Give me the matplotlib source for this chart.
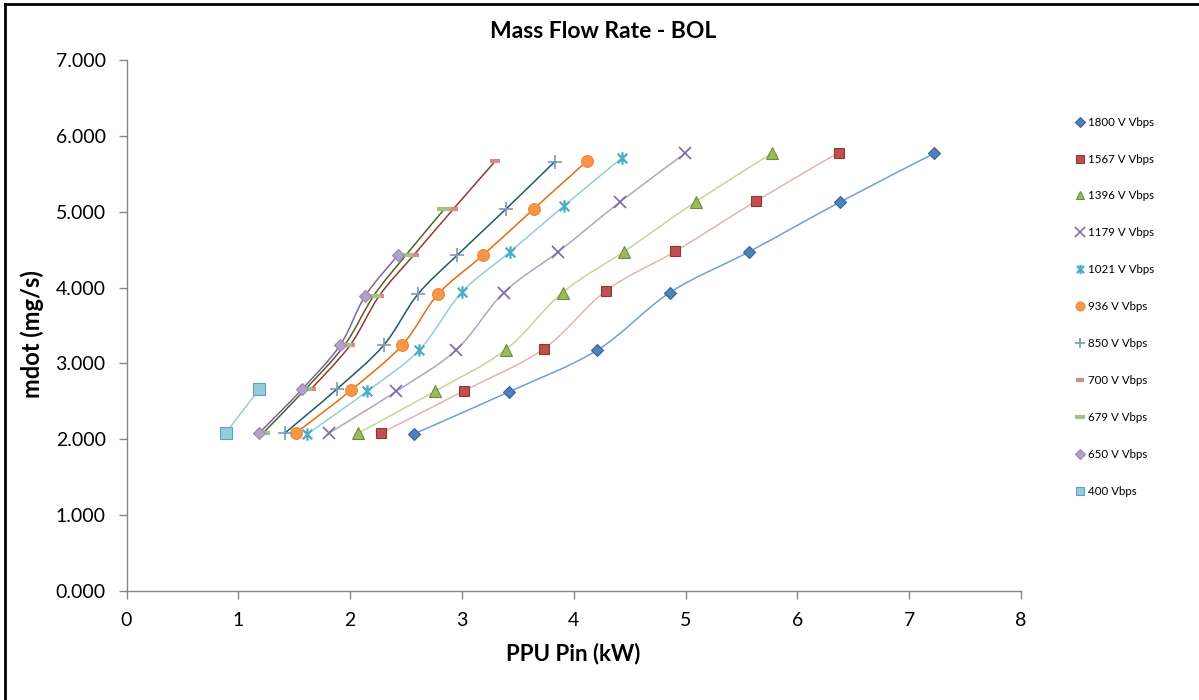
import matplotlib
matplotlib.use("Agg")
import matplotlib.pyplot as plt
import numpy as np
from matplotlib.path import Path
from matplotlib.patches import PathPatch
from matplotlib.lines import Line2D

plt.rcParams['font.family'] = ['Lato', 'DejaVu Sans']

# ---- data (PPU Pin kW, mdot mg/s) ----
x_1800 = [2.57, 3.42, 4.21, 4.86, 5.565, 6.385, 7.225]
y_1800 = [2.07, 2.625, 3.175, 3.935, 4.47, 5.13, 5.77]
x_1567 = [2.275, 3.02, 3.73, 4.29, 4.91, 5.63, 6.37]
y_1567 = [2.08, 2.64, 3.19, 3.96, 4.48, 5.14, 5.78]
x_1396 = [2.07, 2.755, 3.39, 3.90, 4.445, 5.09, 5.77]
y_1396 = [2.08, 2.63, 3.18, 3.935, 4.47, 5.13, 5.77]
x_1179 = [1.81, 2.41, 2.95, 3.375, 3.86, 4.415, 4.995]
y_1179 = [2.08, 2.63, 3.18, 3.935, 4.47, 5.13, 5.77]
x_1021 = [1.617, 2.15, 2.62, 3.0, 3.43, 3.915, 4.43]
y_1021 = [2.07, 2.63, 3.18, 3.94, 4.47, 5.08, 5.71]
x_936 = [1.513, 2.01, 2.465, 2.785, 3.19, 3.645, 4.12]
y_936 = [2.08, 2.65, 3.24, 3.91, 4.43, 5.04, 5.67]
x_850 = [1.415, 1.88, 2.30, 2.605, 2.96, 3.39, 3.83]
y_850 = [2.08, 2.66, 3.24, 3.91, 4.43, 5.03, 5.66]
x_700 = [1.65, 2.0, 2.26, 2.57, 2.92, 3.30]
y_700 = [2.66, 3.24, 3.89, 4.43, 5.03, 5.67]
x_679 = [1.22, 1.60, 1.95, 2.21, 2.50, 2.84]
y_679 = [2.08, 2.66, 3.24, 3.89, 4.43, 5.03]
x_650 = [1.185, 1.57, 1.91, 2.135, 2.43]
y_650 = [2.08, 2.66, 3.24, 3.89, 4.43]
x_400 = [0.886, 1.186]
y_400 = [2.08, 2.66]

labels = ['1800 V Vbps', '1567 V Vbps', '1396 V Vbps', '1179 V Vbps', '1021 V Vbps',
          '936 V Vbps', '850 V Vbps', '700 V Vbps', '679 V Vbps', '650 V Vbps', '400 Vbps']

# asterisk marker (x plus vertical bar), like Excel's
star = Path([(-1, -1), (1, 1), (-1, 1), (1, -1), (0, -1.3), (0, 1.3)],
            [Path.MOVETO, Path.LINETO, Path.MOVETO, Path.LINETO, Path.MOVETO, Path.LINETO])

# (x, y, line colour, marker, face, edge, size, mew)
series = [
    (x_1800, y_1800, '#6E9FE0', 'D', '#4F81BD', '#3A6496', 6.5, 0.8),
    (x_1567, y_1567, '#E6B3B2', 's', '#C0504D', '#8C3836', 7.5, 0.8),
    (x_1396, y_1396, '#C3D69B', '^', '#9BBB59', '#71893F', 8.5, 0.8),
    (x_1179, y_1179, '#B3A2C7', 'x', '#7F6A9C', '#7F6A9C', 9, 1.2),
    (x_1021, y_1021, '#93CDDD', star, '#4BACC6', '#4BACC6', 9, 1.6),
    (x_936, y_936, '#E46C0A', 'o', '#F79646', '#E9883A', 8.5, 0.8),
    (x_850, y_850, '#215967', '+', '#7F97BA', '#7F97BA', 10, 1.2),
    (x_700, y_700, '#953735', '_', '#D28E8C', '#D28E8C', 7, 3.0),
    (x_679, y_679, '#4F6228', '_', '#A9C283', '#A9C283', 10, 3.0),
    (x_650, y_650, '#8064A2', 'D', '#B3A2C7', '#9C88B8', 6.5, 0.8),
    (x_400, y_400, '#93CDDD', 's', '#93CDDD', '#5FA3B8', 8, 0.8),
]


def smooth_path(xs, ys):
    # Excel-style smoothed line: cubic Bezier through the points
    pts = np.column_stack([xs, ys])
    n = len(pts)
    verts = [pts[0]]
    codes = [Path.MOVETO]
    for i in range(n - 1):
        p0 = pts[max(i - 1, 0)]
        p1 = pts[i]
        p2 = pts[i + 1]
        p3 = pts[min(i + 2, n - 1)]
        verts += [p1 + (p2 - p0) / 6, p2 - (p3 - p1) / 6, p2]
        codes += [Path.CURVE4] * 3
    return Path(verts, codes)


fig = plt.figure(figsize=(11.99, 7.0), dpi=100)
ax = fig.add_axes([126.5 / 1199, 1 - 591 / 700, (1021 - 126.5) / 1199, (591 - 60) / 700])

handles = []
for (xs, ys, lc, mk, fc, ec, ms, mew), lab in zip(series, labels):
    ax.add_patch(PathPatch(smooth_path(xs, ys), fill=False, edgecolor=lc, lw=1.1, zorder=2))
    ax.plot(xs, ys, ls='none', marker=mk, ms=ms, mfc=fc, mec=ec, mew=mew, zorder=3)
    handles.append(Line2D([], [], ls='none', marker=mk, ms=ms * 0.75, mfc=fc, mec=ec, mew=mew))

ax.set_xlim(0, 8)
ax.set_ylim(0, 7)
ax.set_xticks(range(0, 9))
ax.set_yticks(np.arange(0, 8))
ax.set_yticklabels(['%.3f' % v for v in np.arange(0, 8)])
for s in ['top', 'right']:
    ax.spines[s].set_visible(False)
for s in ['left', 'bottom']:
    ax.spines[s].set_color('#868686')
    ax.spines[s].set_linewidth(1.0)
ax.tick_params(direction='out', length=6, width=1, color='#868686', labelsize=14, pad=9)

fig.text(603 / 1199, 1 - 31 / 700, 'Mass Flow Rate - BOL', ha='center', va='center',
         fontsize=16.5, fontweight='bold')
fig.text(573 / 1199, 1 - 654 / 700, 'PPU Pin (kW)', ha='center', va='center',
         fontsize=16, fontweight='bold')
fig.text(32 / 1199, 1 - 334 / 700, 'mdot (mg/s)', ha='center', va='center',
         rotation=90, fontsize=17, fontweight='bold')

fig.legend(handles, labels, loc='upper left', bbox_to_anchor=(1071 / 1199, 1 - 112 / 700),
           frameon=False, fontsize=8.3, labelspacing=2.25, handlelength=0.8, handletextpad=0.3,
           borderaxespad=0)

# outer chart border
fig.add_artist(Line2D([5 / 1199, 1.01], [1 - 4 / 700, 1 - 4 / 700], color='black', lw=2,
                      transform=fig.transFigure))
fig.add_artist(Line2D([5 / 1199, 5 / 1199], [-0.01, 1 - 4 / 700], color='black', lw=2,
                      transform=fig.transFigure))

fig.savefig('out.png', dpi=100)
